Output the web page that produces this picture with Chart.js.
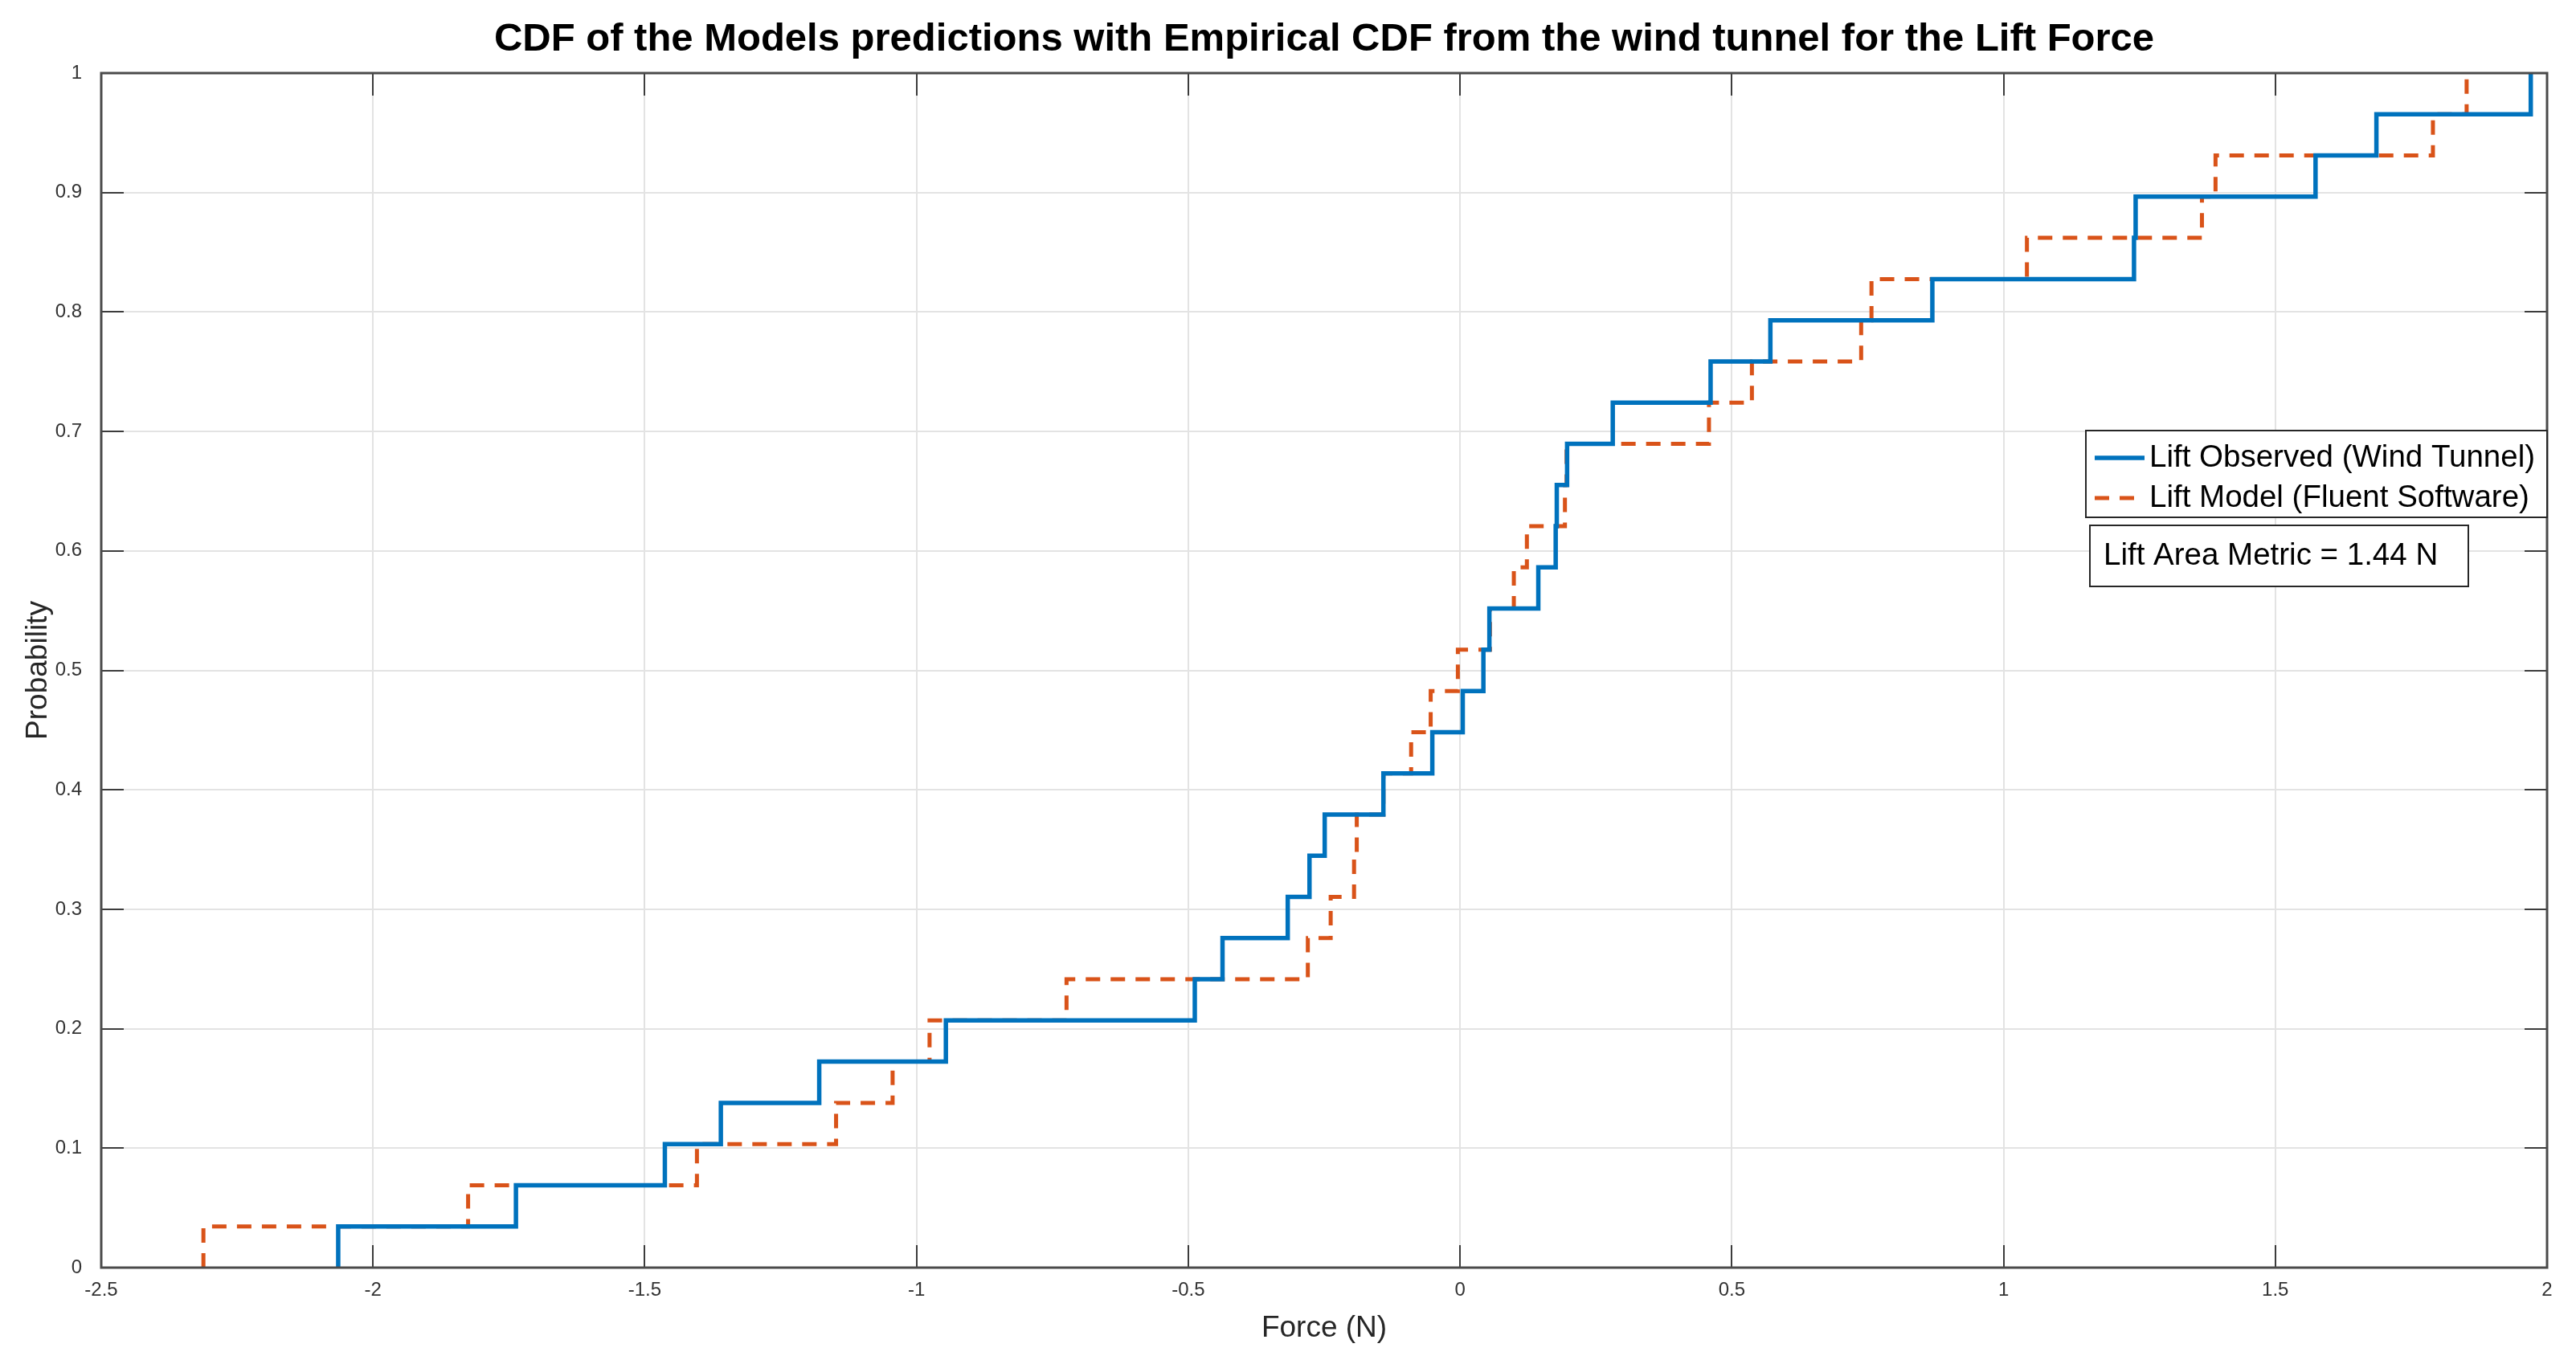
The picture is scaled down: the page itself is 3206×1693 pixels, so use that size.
<!DOCTYPE html>
<html>
<head>
<meta charset="utf-8">
<script src="https://cdn.jsdelivr.net/npm/chart.js@4.4.1/dist/chart.umd.min.js"></script>
<style>
  html, body { margin: 0; padding: 0; background: #fff; }
</style>
</head>
<body>
<canvas id="cdf_chart" width="3206" height="1693"></canvas>
<script>
// sample values (sorted), one ECDF per series
const observedLift = [-2.064, -1.737, -1.463, -1.36, -1.179, -0.946, -0.488, -0.437, -0.317, -0.277,
  -0.249, -0.141, -0.051, 0.005, 0.043, 0.054, 0.144, 0.176, 0.178, 0.197,
  0.281, 0.461, 0.571, 0.869, 1.24, 1.243, 1.574, 1.686, 1.97];
const modelLift = [-2.312, -1.825, -1.404, -1.148, -1.044, -0.976, -0.724, -0.28, -0.238, -0.195,
  -0.19, -0.141, -0.09, -0.054, -0.004, 0.055, 0.099, 0.123, 0.193, 0.196,
  0.458, 0.537, 0.738, 0.757, 1.043, 1.365, 1.39, 1.79, 1.852];
const seriesNames = ['Lift Observed (Wind Tunnel)', 'Lift Model (Fluent Software)'];
const xTickLabels = ['-2.5', '-2', '-1.5', '-1', '-0.5', '0', '0.5', '1', '1.5', '2'];
const yTickLabels = ['0', '0.1', '0.2', '0.3', '0.4', '0.5', '0.6', '0.7', '0.8', '0.9', '1'];
const areaMetric = 1.44;

const FONT = "'Liberation Sans', Arial, Helvetica, sans-serif";
const TICK_LEN = 28;

function ecdfPoints(values) {
  const n = values.length;
  const pts = [{ x: values[0], y: 0 }];
  values.forEach((v, i) => pts.push({ x: v, y: (i + 1) / n }));
  return pts;
}

const axesBox = {
  id: 'axesBox',
  afterDatasetsDraw(chart) {
    const { ctx, chartArea: a, scales: { x, y } } = chart;
    ctx.save();
    ctx.strokeStyle = '#3c3c3c';
    ctx.lineWidth = 2;
    ctx.beginPath();
    x.ticks.forEach(t => {
      const px = Math.round(x.getPixelForValue(t.value));
      ctx.moveTo(px, a.bottom); ctx.lineTo(px, a.bottom - TICK_LEN);
      ctx.moveTo(px, a.top); ctx.lineTo(px, a.top + TICK_LEN);
    });
    y.ticks.forEach(t => {
      const py = Math.round(y.getPixelForValue(t.value));
      ctx.moveTo(a.left, py); ctx.lineTo(a.left + TICK_LEN, py);
      ctx.moveTo(a.right, py); ctx.lineTo(a.right - TICK_LEN, py);
    });
    ctx.stroke();
    ctx.lineWidth = 3;
    ctx.strokeStyle = '#4a4a4a';
    ctx.strokeRect(a.left, a.top, a.right - a.left, a.bottom - a.top);

    // legend
    ctx.fillStyle = '#fff';
    ctx.fillRect(2596, 536, 574, 108);
    ctx.strokeStyle = '#262626';
    ctx.lineWidth = 2;
    ctx.strokeRect(2596, 536, 574, 108);
    ctx.font = '38.5px ' + FONT;
    ctx.textBaseline = 'middle';
    chart.data.datasets.forEach((ds, i) => {
      const ly = 570 + i * 50;
      ctx.beginPath();
      ctx.strokeStyle = ds.borderColor;
      ctx.lineWidth = ds.borderWidth;
      ctx.setLineDash(ds.borderDash || []);
      ctx.moveTo(2607, ly); ctx.lineTo(2669, ly);
      ctx.stroke();
      ctx.setLineDash([]);
      ctx.fillStyle = '#000';
      ctx.fillText(ds.label, 2675, ly);
    });

    // area metric annotation
    ctx.fillStyle = '#fff';
    ctx.fillRect(2601, 654, 471, 76);
    ctx.strokeStyle = '#262626';
    ctx.lineWidth = 2;
    ctx.strokeRect(2601, 654, 471, 76);
    ctx.fillStyle = '#000';
    ctx.fillText('Lift Area Metric = ' + areaMetric.toFixed(2) + ' N', 2618, 692);
    ctx.restore();
  }
};

const chartConfig = {
  type: 'line',
  data: {
    datasets: [
      {
        label: seriesNames[0],
        data: ecdfPoints(observedLift),
        stepped: 'before',
        borderColor: '#0072BD',
        borderWidth: 5.5,
        pointRadius: 0,
        fill: false
      },
      {
        label: seriesNames[1],
        data: ecdfPoints(modelLift),
        stepped: 'before',
        borderColor: '#D95319',
        borderWidth: 5,
        borderDash: [18, 13],
        pointRadius: 0,
        fill: false
      }
    ]
  },
  options: {
    responsive: false,
    animation: false,
    devicePixelRatio: 1,
    layout: { padding: { left: 0, right: 36, top: 0, bottom: 0 } },
    plugins: {
      legend: { display: false },
      tooltip: { enabled: false },
      title: {
        display: true,
        fullSize: false,
        text: 'CDF of the Models predictions with Empirical CDF from the wind tunnel for the Lift Force',
        color: '#000',
        font: { family: FONT, size: 49, weight: 'bold', lineHeight: 1.2 },
        padding: { top: 20, bottom: 12.2 }
      }
    },
    scales: {
      x: {
        type: 'linear',
        min: -2.5,
        max: 2,
        afterFit: scale => { scale.height = 115; },
        ticks: {
          stepSize: 0.5,
          padding: 14,
          color: '#333',
          font: { family: FONT, size: 24 },
          callback: (v, i) => xTickLabels[i]
        },
        grid: { color: '#e3e3e3', lineWidth: 2, drawTicks: false },
        border: { display: false },
        title: {
          display: true,
          text: 'Force (N)',
          color: '#262626',
          font: { family: FONT, size: 37, lineHeight: 1.2 },
          padding: { top: 0, bottom: 17 }
        }
      },
      y: {
        type: 'linear',
        min: 0,
        max: 1,
        afterFit: scale => { scale.width = 126; },
        ticks: {
          stepSize: 0.1,
          padding: 24,
          color: '#333',
          font: { family: FONT, size: 24 },
          callback: (v, i) => yTickLabels[i]
        },
        grid: { color: '#e3e3e3', lineWidth: 2, drawTicks: false },
        border: { display: false },
        title: {
          display: true,
          text: 'Probability',
          color: '#262626',
          font: { family: FONT, size: 37, lineHeight: 1.2 },
          padding: { top: 26, bottom: 0 }
        }
      }
    }
  },
  plugins: [axesBox]
};

const chartElement = document.getElementById('cdf_chart');
const chart = new Chart(chartElement, chartConfig);
</script>
</body>
</html>
